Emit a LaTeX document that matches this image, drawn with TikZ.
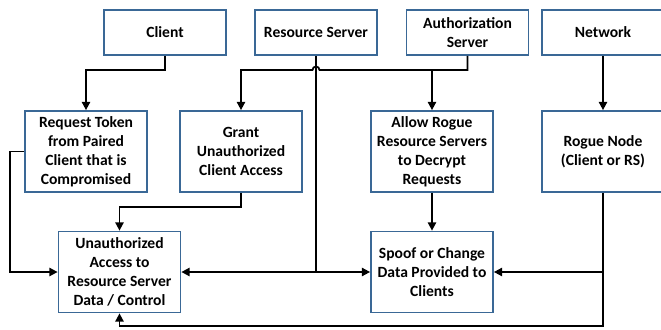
\documentclass[tikz,border=0pt]{standalone}
\usepackage{fontspec}
\setmainfont{Carlito}
\usetikzlibrary{arrows.meta,calc}
\definecolor{ThreatEdge}{HTML}{3A6896}
\definecolor{ThreatLink}{HTML}{000000}

\begin{document}
\begin{tikzpicture}[x=0.03cm,y=-0.03cm,
    threat/.style={draw=ThreatEdge,line width=1.5pt,fill=white,
      minimum width=3.66cm,inner sep=2pt,align=center,
      font=\fontsize{13.3}{16.2}\selectfont\bfseries},
    src/.style={threat,minimum height=1.35cm},
    step box/.style={threat,minimum height=2.43cm},
    link/.style={ThreatLink,line width=1.5pt},
    arr/.style={link,-{Triangle[length=7pt,width=7pt]}}]
        \useasboundingbox (0,0) rectangle (661,329);

        % top row: sources
        \node[src] (client)  at (165,32.5) {Client};
        \node[src] (rs)      at (316,32.5) {Resource Server};
        \node[src] (auth)    at (467.5,32.5) {Authorization\\Server};
        \node[src] (network) at (603,32.5) {Network};

        % middle row
        \node[step box] (reqtok) at (86,151.5)
          {Request Token\\from Paired\\Client that is\\Compromised};
        \node[step box] (grant)  at (241,151.5)
          {Grant\\Unauthorized\\Client Access};
        \node[step box] (allow)  at (432,151.5)
          {Allow Rogue\\Resource Servers\\to Decrypt\\Requests};
        \node[step box] (rogue)  at (603,151.5)
          {Rogue Node\\(Client or RS)};

        % bottom row: outcomes
        \node[step box] (unauth) at (119.5,272)
          {Unauthorized\\Access to\\Resource Server\\Data / Control};
        \node[step box] (spoof)  at (432,272)
          {Spoof or Change\\Data Provided to\\Clients};

        \coordinate (hop) at (rs.south |- 0,70);

        \draw[arr] (client.south) -- (client.south |- 0,70) -| (reqtok.north);
        \draw[arr] (reqtok.west) -- ++(-14,0) |- (unauth.west);
        \draw[arr] (grant.south) -- (grant.south |- 0,207) -| (unauth.north);

        % authorization server bus, hopping over the resource server line
        \draw[arr] (auth.south) -- (auth.south |- 0,70)
          -- ($(hop)+(3.5,0)$) arc[start angle=0,end angle=-180,radius=3.5]
          -| (grant.north);
        \draw[arr] (allow.north |- 0,70) -- (allow.north);

        \draw[link] (rs.south) -- (rs.south |- unauth.east);
        \draw[arr] (rs.south |- unauth.east) -- (unauth.east);
        \draw[arr] (rs.south |- spoof.west) -- (spoof.west);

        \draw[arr] (allow.south) -- (spoof.north);
        \draw[arr] (network.south) -- (rogue.north);
        \draw[arr] (rogue.south) -- (rogue.south |- 0,326) -| (unauth.south);
        \draw[arr] (rogue.south |- spoof.east) -- (spoof.east);
      \end{tikzpicture}
\end{document}
